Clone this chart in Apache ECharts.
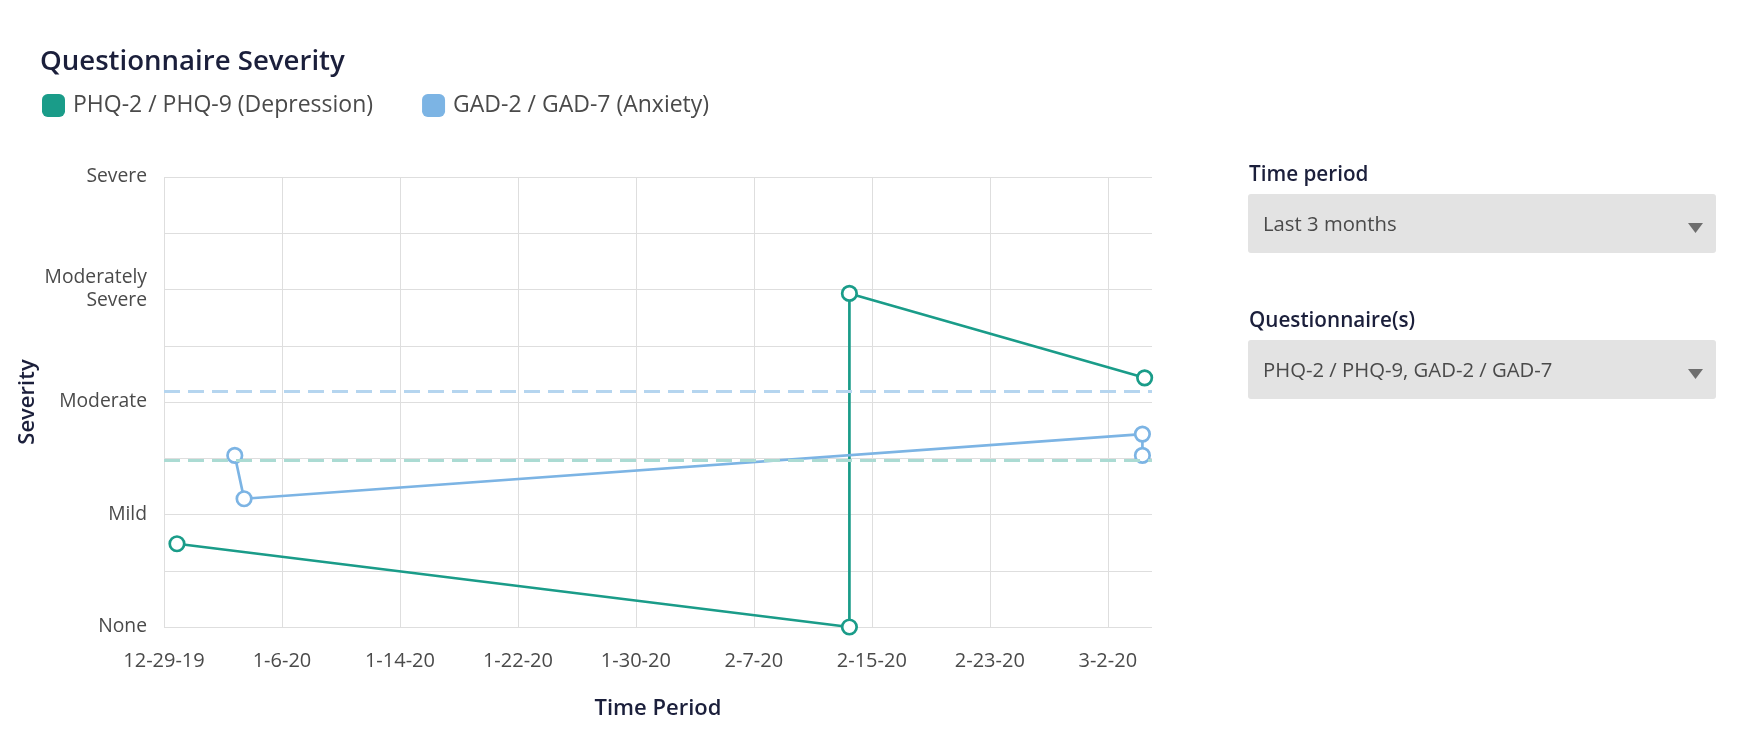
<!DOCTYPE html>
<html>
<head>
<meta charset="utf-8">
<script src="https://cdn.jsdelivr.net/npm/echarts@6/dist/echarts.min.js"></script>
<style>
html,body{margin:0;padding:0;background:#fff;}
#chart{width:1762px;height:730px;}
</style>
</head>
<body>
<div id="chart"></div>
<script>
// ---- data ----
const xTickLabels = ['12-29-19','1-6-20','1-14-20','1-22-20','1-30-20','2-7-20','2-15-20','2-23-20','3-2-20'];
const daysPerTick = 8;
const xMaxDays = 67;
const severityLabels = ['None','Mild','Moderate','Moderately\nSevere','Severe'];
const phqName = 'PHQ-2 / PHQ-9 (Depression)';
const gadName = 'GAD-2 / GAD-7 (Anxiety)';
const phqDays = [0.88, 46.48, 46.48, 66.5];
const phqSeverity = [1.48, 0, 5.93, 4.43];
const gadDays = [4.8, 5.43, 66.35, 66.35];
const gadSeverity = [3.05, 2.28, 3.43, 3.05];
const phqThreshold = 2.96;
const gadThreshold = 4.19;
const timePeriodValue = 'Last 3 months';
const questionnaireValue = 'PHQ-2 / PHQ-9, GAD-2 / GAD-7';

// ---- styles ----
const FONT = '"Open Sans", Lato, sans-serif';
const TEAL = '#1a9c89';
const BLUE = '#7cb4e4';
const TEAL_DASH = '#abdbd3';
const BLUE_DASH = '#b5d5ef';
const NAVY = '#1b1f3b';
const TEXT = '#4a4a4a';
const GRID = '#dedede';

const chart = echarts.init(document.getElementById('chart'), null, {renderer: 'canvas'});

function zip(xs, ys){ return xs.map((x,i)=>[x, ys[i]]); }

function dropdown(label, value, top){
  return [
    {type:'text', left:1249, top:top, style:{text:label, font:'600 20.7px '+FONT, fill:NAVY}},
    {type:'rect', shape:{x:1248, y:top+29, width:468, height:59, r:3}, style:{fill:'#e3e3e3'}},
    {type:'text', left:1263, top:top+50, style:{text:value, font:'20.3px '+FONT, fill:TEXT}},
    {type:'polygon', shape:{points:[[1688,top+58],[1703,top+58],[1695.5,top+68]]}, style:{fill:'#6e6e6e'}}
  ];
}

const option = {
  animation:false,
  backgroundColor:'#fff',
  textStyle:{fontFamily:FONT},
  title:{
    text:'Questionnaire Severity', left:35, top:43,
    textStyle:{fontSize:27.6, fontWeight:600, color:NAVY, fontFamily:FONT}
  },
  legend:{
    left:37, top:89, itemWidth:23, itemHeight:23, itemGap:49, icon:'roundRect',
    textStyle:{fontSize:23, color:TEXT, fontFamily:FONT, padding:[0,0,0,3]},
    data:[
      {name:phqName, itemStyle:{color:TEAL, borderWidth:0}},
      {name:gadName, itemStyle:{color:BLUE, borderWidth:0}}
    ]
  },
  grid:{left:164, right:610, top:177, bottom:103},
  xAxis:{
    type:'value', min:0, max:xMaxDays, interval:daysPerTick,
    name:'Time Period', nameLocation:'middle', nameGap:71,
    nameTextStyle:{fontSize:22, fontWeight:600, color:NAVY, fontFamily:FONT},
    axisLine:{show:false}, axisTick:{show:false},
    axisLabel:{
      fontSize:20, color:TEXT, margin:24, showMaxLabel:false,
      formatter:function(v){ const i = Math.round(v/daysPerTick); return (Math.abs(v - i*daysPerTick) < 1e-6 && xTickLabels[i]) ? xTickLabels[i] : ''; }
    },
    splitLine:{show:true, showMaxLine:false, lineStyle:{color:GRID, width:1}}
  },
  yAxis:{
    type:'value', min:0, max:8, interval:1,
    name:'Severity', nameLocation:'middle', nameGap:125, nameRotate:90, nameMoveOverlap:false,
    nameTextStyle:{fontSize:22, fontWeight:600, color:NAVY, fontFamily:FONT},
    axisLine:{show:false}, axisTick:{show:false},
    axisLabel:{
      fontSize:19.3, color:TEXT, margin:17, lineHeight:23, align:'right', padding:[4,0,0,0],
      formatter:function(v){ return (v % 2 === 0) ? severityLabels[v/2] : ''; }
    },
    splitLine:{show:true, lineStyle:{color:GRID, width:1}}
  },
  series:[
    {
      name:'thresholds', type:'line', data:[], z:1, silent:true,
      markLine:{
        silent:true, symbol:['none','none'], label:{show:false}, animation:false,
        data:[
          {yAxis:gadThreshold, lineStyle:{color:BLUE_DASH, width:3, type:[16,8]}},
          {yAxis:phqThreshold, lineStyle:{color:TEAL_DASH, width:3, type:[16,8]}}
        ]
      }
    },
    {
      name:phqName, type:'line', data:zip(phqDays, phqSeverity), z:3,
      symbol:'circle', symbolSize:14.5, showAllSymbol:true,
      lineStyle:{color:TEAL, width:2.7},
      itemStyle:{color:'#fff', borderColor:TEAL, borderWidth:2.7}
    },
    {
      name:gadName, type:'line', data:zip(gadDays, gadSeverity), z:4,
      symbol:'circle', symbolSize:14.5, showAllSymbol:true,
      lineStyle:{color:BLUE, width:2.7},
      itemStyle:{color:'#fff', borderColor:BLUE, borderWidth:2.7}
    }
  ],
  graphic: dropdown('Time period', timePeriodValue, 165).concat(dropdown('Questionnaire(s)', questionnaireValue, 311))
};
chart.setOption(option);
</script>
</body>
</html>
